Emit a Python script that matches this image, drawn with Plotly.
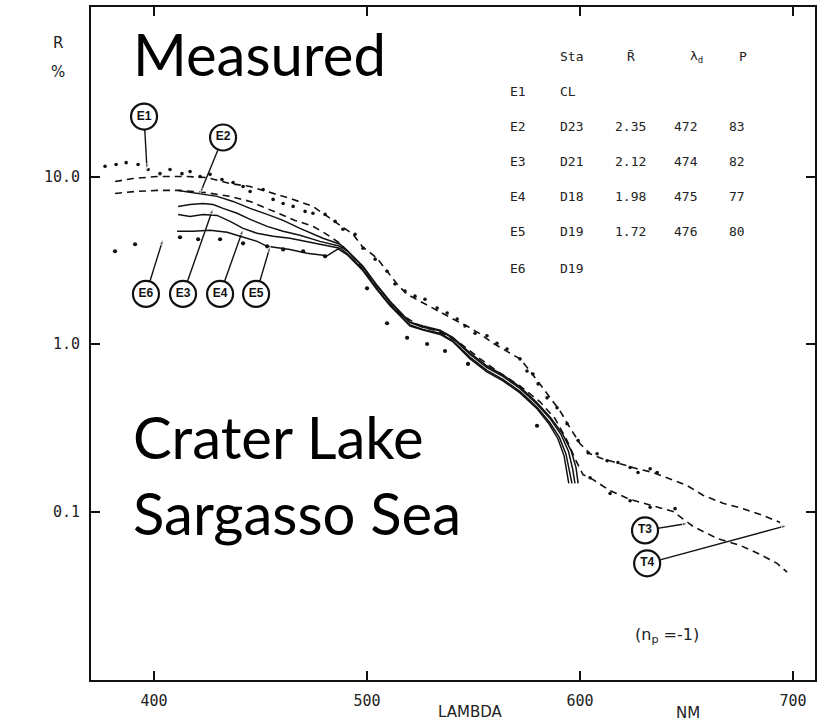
import plotly.graph_objects as go

# ---------------- data ----------------
# theoretical curves (dashed)
t4_nm = [381.7, 390.1, 401.4, 415.5, 424.9, 435.7, 445.1, 457.7, 463.8, 474.6, 485.9, 493.4, 497.7, 504.7,
         509.4, 514.1, 518.8, 524.9, 532.9, 540.4, 546.9, 553.1, 559.2, 565.7, 571.8, 576.5, 581.2, 585.9,
         590.6, 595.3, 600.0, 604.7, 610.8, 618.8, 626.8, 634.3, 642.3, 650.2, 657.7, 667.1, 676.5, 685.9, 693.9]
t4_r = [9.33, 9.73, 10.0, 10.0, 9.86, 9.08, 8.72, 7.82, 7.40, 6.63, 5.25, 4.52, 3.83, 3.25,
        2.72, 2.28, 1.98, 1.80, 1.57, 1.41, 1.28, 1.15, 1.01, 0.908, 0.815, 0.690, 0.578, 0.477,
        0.399, 0.316, 0.254, 0.221, 0.206, 0.193, 0.180, 0.171, 0.157, 0.143, 0.125, 0.112, 0.104, 0.0947, 0.0860]

t3_nm = [381.7, 391.1, 401.4, 412.2, 423.9, 435.7, 445.1, 452.1, 459.2, 466.2, 474.6, 480.3, 487.3, 494.4,
         501.4, 508.5, 515.5, 524.9, 534.3, 543.7, 553.1, 562.4, 571.8, 581.2, 588.3, 593.9, 597.7, 601.4,
         606.1, 614.1, 623.5, 632.9, 643.7, 653.1, 664.3, 675.1, 684.5, 692.5, 697.2]
t3_r = [7.92, 8.14, 8.26, 8.26, 8.03, 7.61, 7.10, 6.53, 5.94, 5.47, 5.04, 4.58, 3.99, 3.21,
        2.44, 1.85, 1.51, 1.28, 1.18, 1.01, 0.815, 0.671, 0.562, 0.452, 0.358, 0.265, 0.206, 0.166,
        0.155, 0.133, 0.118, 0.109, 0.100, 0.0814, 0.0691, 0.0628, 0.0555, 0.0490, 0.0434]

# measured curves (solid)
e2_nm = [411.3, 421.6, 429.6, 437.1, 445.1, 453.1, 460.6, 468.5, 479.3, 487.3, 490.6, 498.1, 504.7, 510.8,
         516.9, 520.2, 526.3, 534.3, 540.4, 548.4, 556.3, 563.8, 571.8, 579.8, 585.9, 591.5, 595.8, 598.1, 599.1]
e2_r = [8.26, 7.92, 7.61, 7.10, 6.45, 5.94, 5.47, 4.90, 4.28, 3.94, 3.63, 2.91, 2.24, 1.80,
        1.49, 1.35, 1.28, 1.21, 1.09, 0.883, 0.739, 0.653, 0.555, 0.446, 0.367, 0.295, 0.231, 0.183, 0.147]

e3_nm = [411.3, 416.9, 423.0, 427.7, 432.4, 439.0, 445.1, 453.1, 460.6, 468.5, 477.9, 487.3, 490.6, 498.1,
         504.7, 510.8, 516.9, 520.2, 526.3, 534.3, 540.4, 548.4, 556.3, 563.8, 571.8, 579.8, 586.2, 591.0,
         594.6, 596.6, 597.6]
e3_r = [6.63, 6.81, 6.90, 6.81, 6.45, 6.03, 5.55, 5.04, 4.71, 4.46, 4.10, 3.83, 3.60, 2.88,
        2.22, 1.78, 1.47, 1.34, 1.26, 1.20, 1.08, 0.866, 0.724, 0.640, 0.543, 0.437, 0.355, 0.289,
        0.228, 0.178, 0.147]

e4_nm = [411.3, 416.9, 423.0, 429.6, 435.7, 441.8, 448.4, 455.9, 463.8, 473.2, 480.3, 487.3, 490.6, 498.1,
         504.7, 510.8, 516.9, 520.2, 526.3, 534.3, 540.4, 548.4, 556.3, 563.8, 571.8, 579.8, 585.7, 590.3,
         593.4, 595.3, 596.2]
e4_r = [5.94, 5.78, 5.94, 5.86, 5.40, 4.90, 4.58, 4.40, 4.28, 4.05, 3.88, 3.73, 3.47, 2.78,
        2.14, 1.72, 1.43, 1.30, 1.22, 1.16, 1.04, 0.832, 0.696, 0.615, 0.521, 0.419, 0.341, 0.277,
        0.220, 0.172, 0.147]

e5_nm = [410.8, 418.3, 426.3, 434.3, 440.4, 448.4, 453.1, 459.2, 463.8, 471.8, 481.2, 486.4, 490.6, 498.1,
         504.7, 510.8, 516.9, 520.2, 526.3, 534.3, 540.4, 548.4, 556.3, 563.8, 571.8, 579.8, 585.4, 589.6,
         592.5, 594.0, 594.7]
e5_r = [4.71, 4.71, 4.77, 4.64, 4.40, 4.10, 3.83, 3.73, 3.67, 3.48, 3.36, 3.70, 3.42, 2.74,
        2.11, 1.69, 1.41, 1.28, 1.21, 1.14, 1.03, 0.815, 0.682, 0.603, 0.511, 0.411, 0.334, 0.272,
        0.215, 0.168, 0.147]

# dotted data (E1 Crater Lake, E6 D19)
e1_nm = [377.0, 382.2, 386.9, 392.5, 397.2, 402.8, 407.5, 413.1, 416.9, 421.6, 426.3, 431.9, 437.1, 441.8,
         445.1, 451.2, 455.9, 460.6, 465.3, 470.9, 474.6, 480.3, 485.0, 488.7, 494.4, 498.1, 503.8, 509.4,
         513.1, 517.8, 522.5, 527.2, 532.9, 537.6, 542.3, 546.0, 550.7, 556.3, 561.0, 565.7, 571.8, 575.1,
         577.9, 580.3, 584.5, 589.2, 593.9, 599.1, 603.8, 608.0, 612.7, 617.8, 623.5, 627.2, 632.9, 636.2,
         604.7, 614.1, 623.5, 632.9, 644.6]
e1_r = [11.5, 11.8, 12.1, 11.8, 11.0, 10.4, 11.0, 10.4, 10.7, 10.0, 10.3, 9.60, 9.21, 8.72,
        8.14, 8.37, 7.30, 6.90, 6.63, 6.19, 6.03, 5.94, 5.40, 4.84, 4.52, 3.73, 3.21, 2.72,
        2.28, 2.07, 1.93, 1.85, 1.64, 1.53, 1.41, 1.28, 1.16, 1.12, 1.01, 0.933, 0.815, 0.690,
        0.662, 0.578, 0.477, 0.416, 0.334, 0.265, 0.224, 0.221, 0.201, 0.196, 0.183, 0.171, 0.180, 0.171,
        0.159, 0.128, 0.116, 0.106, 0.104]

e6_nm = [381.7, 391.1, 412.2, 420.7, 431.0, 441.8, 453.1, 460.6, 470.0, 480.3, 500.0, 509.4, 518.8, 528.2,
         536.6, 547.4, 579.8]
e6_r = [3.58, 3.94, 4.34, 4.22, 4.22, 3.99, 3.83, 3.67, 3.58, 3.34, 2.15, 1.33, 1.09, 1.00,
        0.908, 0.760, 0.325]

# circled curve labels and their leader lines
label_names = ["E1", "E2", "E6", "E3", "E4", "E5", "T3", "T4"]
label_nm = [395.3, 432.4, 396.2, 413.6, 431.0, 447.9, 630.5, 631.5]
label_r = [22.8, 17.1, 1.99, 1.99, 1.99, 1.99, 0.0771, 0.0490]
leader_tip_nm = [396.7, 421.6, 404.2, 427.7, 441.8, 454.5, 650.7, 697.2]
leader_tip_r = [11.0, 7.92, 4.22, 6.45, 4.84, 3.83, 0.0849, 0.0826]

# table
table_header = ["Sta", "R\u0304", "\u03bb<sub>d</sub>", "P"]
table_ids = ["E1", "E2", "E3", "E4", "E5", "E6"]
table_sta = ["CL", "D23", "D21", "D18", "D19", "D19"]
table_rbar = ["", "2.35", "2.12", "1.98", "1.72", ""]
table_lambda = ["", "472", "474", "475", "476", ""]
table_p = ["", "83", "82", "77", "80", ""]

x_ticks = [400, 500, 600, 700]
y_ticks = [10.0, 1.0, 0.1]
y_ticktext = ["10.0", "1.0", "0.1"]

# ---------------- geometry ----------------
W, H = 829, 721
ML, MR, MT, MB = 91, 14, 5, 41
PW, PH = W - ML - MR, H - MT - MB


def pxx(x):
    return (x - ML) / PW


def pxy(y):
    return (H - MB - y) / PH


INK = "#111111"
fig = go.Figure()

# dashed theoretical curves
for xs, ys in [(t4_nm, t4_r), (t3_nm, t3_r)]:
    fig.add_trace(go.Scatter(x=xs, y=ys, mode="lines", line=dict(color=INK, width=1.6, dash="7px,5px"),
                             hoverinfo="skip"))

# solid measured curves
for xs, ys in [(e2_nm, e2_r), (e3_nm, e3_r), (e4_nm, e4_r), (e5_nm, e5_r)]:
    fig.add_trace(go.Scatter(x=xs, y=ys, mode="lines", line=dict(color=INK, width=1.5),
                             hoverinfo="skip"))

# dotted data
fig.add_trace(go.Scatter(x=e1_nm, y=e1_r, mode="markers", marker=dict(color=INK, size=3.6)))
fig.add_trace(go.Scatter(x=e6_nm, y=e6_r, mode="markers", marker=dict(color=INK, size=4.2)))

# leader lines
for i in range(len(label_names)):
    fig.add_trace(go.Scatter(x=[label_nm[i], leader_tip_nm[i]], y=[label_r[i], leader_tip_r[i]],
                             mode="lines+markers", line=dict(color=INK, width=1.4),
                             marker=dict(symbol="arrow", angleref="previous", size=[0, 6], color=INK),
                             hoverinfo="skip"))

# circled labels
fig.add_trace(go.Scatter(x=label_nm, y=label_r, mode="markers+text", text=label_names,
                         textposition="middle center",
                         textfont=dict(family="Liberation Sans Narrow, Liberation Sans", size=12, color=INK,
                                       weight="bold"),
                         marker=dict(symbol="circle", size=26, color="white", line=dict(color=INK, width=2.2)),
                         hoverinfo="skip"))

ann = []
mono = "DejaVu Sans Mono, Liberation Mono"
# table header
hdr_x = [558, 625, 688, 737]
for t, x in zip(table_header, hdr_x):
    ann.append(dict(x=pxx(x), y=pxy(55), text=t, xanchor="left"))
col_x = [508, 558, 613, 672, 727]
row_y = [90, 125, 160, 195, 230, 267]
for r, yv in enumerate(row_y):
    vals = [table_ids[r], table_sta[r], table_rbar[r], table_lambda[r], table_p[r]]
    for v, x in zip(vals, col_x):
        if v:
            ann.append(dict(x=pxx(x), y=pxy(yv), text=v, xanchor="left"))
for a in ann:
    a.update(xref="paper", yref="paper", yanchor="middle", showarrow=False,
             font=dict(family=mono, size=13, color="#222222"))

big = dict(family="Lato, Open Sans", size=58, color="black")
for txt, yv in [("Measured", 52), ("Crater Lake", 436), ("Sargasso Sea", 512)]:
    ann.append(dict(x=pxx(131), y=pxy(yv), text=txt, xref="paper", yref="paper", xanchor="left",
                    yanchor="middle", showarrow=False, font=big))

axfont = dict(family="DejaVu Sans", size=15, color="#222222")
for txt, x, yv in [("R", 58, 41), ("%", 58, 70), ("LAMBDA", 470, 712), ("NM", 688, 713)]:
    ann.append(dict(x=pxx(x), y=pxy(yv), text=txt, xref="paper", yref="paper", xanchor="center",
                    yanchor="middle", showarrow=False, font=axfont))
ann.append(dict(x=pxx(667), y=pxy(635), text="(n<sub>p</sub> =-1)", xref="paper", yref="paper",
                xanchor="center", yanchor="middle", showarrow=False,
                font=dict(family="DejaVu Sans", size=16, color="#222222")))

tickfont = dict(family="DejaVu Sans Mono", size=15, color="#222222")
fig.update_layout(
    width=W, height=H, margin=dict(l=ML, r=MR, t=MT, b=MB),
    paper_bgcolor="white", plot_bgcolor="white", showlegend=False,
    annotations=ann,
    xaxis=dict(range=[370.4, 710.3], tickvals=x_ticks, ticks="inside", ticklen=9, tickwidth=1.5,
               tickcolor=INK, showline=True, linecolor=INK, linewidth=2, mirror="ticks",
               showgrid=False, zeroline=False, tickfont=tickfont, ticklabelstandoff=6),
    yaxis=dict(type="log", range=[-2.006, 2.012], tickvals=y_ticks, ticktext=y_ticktext, ticks="inside",
               ticklen=9, tickwidth=1.5, tickcolor=INK, showline=True, linecolor=INK, linewidth=2,
               mirror="ticks", showgrid=False, zeroline=False, tickfont=tickfont, ticklabelstandoff=6),
)

fig.write_html("out.html")
